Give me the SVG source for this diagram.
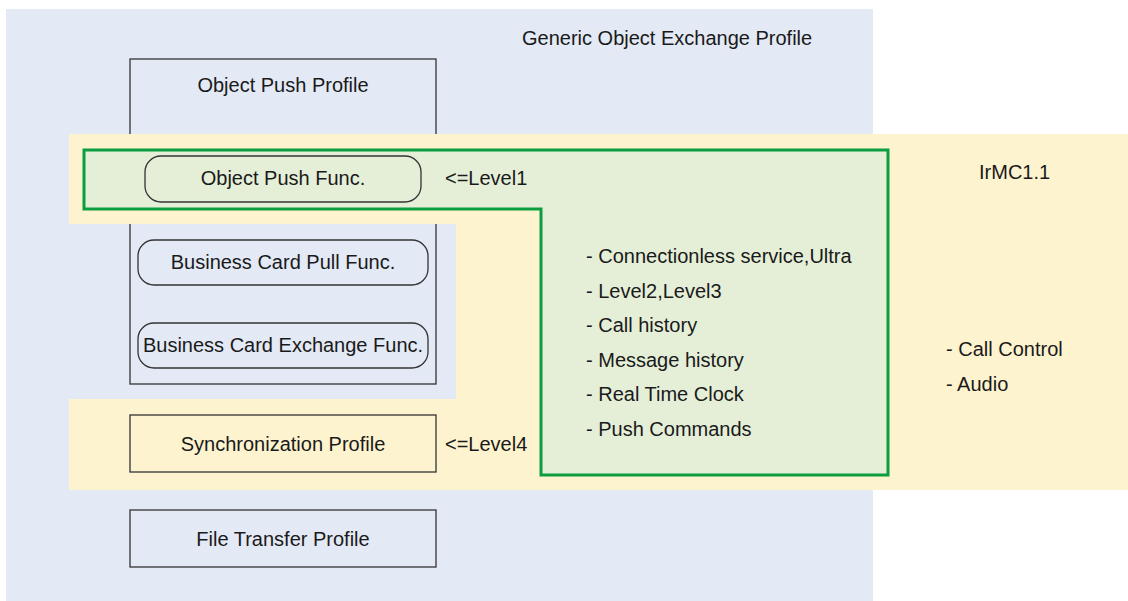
<svg xmlns="http://www.w3.org/2000/svg" width="1128" height="601" viewBox="0 0 1128 601">
  <style>
    text { font-family: "Liberation Sans", Arial, sans-serif; font-size: 20px; fill: #1a1a1a; }
    .mid { text-anchor: middle; }
    .box { stroke: #333333; stroke-width: 1.3; }
    .func { fill: none; stroke: #333333; stroke-width: 1.3; }
  </style>

  <!-- Generic Object Exchange Profile area -->
  <g id="goep">
    <rect x="6" y="9" width="867" height="592" fill="#e3e9f5"/>
    <text x="522" y="45">Generic Object Exchange Profile</text>
  </g>

  <!-- Object Push Profile frame (partly covered by the IrMC band) -->
  <g id="object-push-profile">
    <rect class="box" x="130" y="59" width="306" height="325" fill="none"/>
    <text class="mid" x="283" y="92">Object Push Profile</text>
  </g>

  <!-- IrMC1.1 band with a notch for the business card functions -->
  <g id="irmc">
    <polygon points="69,134 1128,134 1128,490 69,490 69,399 456,399 456,224 69,224" fill="#fdf3cf"/>
    <text x="979" y="179">IrMC1.1</text>
    <text x="946" y="356">- Call Control</text>
    <text x="946" y="391">- Audio</text>
  </g>

  <!-- Functions shared by both specs -->
  <g id="shared">
    <polygon points="84,150 888,150 888,475 541,475 541,209 84,209" fill="#e5efd8" stroke="#0b9e3e" stroke-width="3"/>
    <text x="586" y="263">- Connectionless service,Ultra</text>
    <text x="586" y="297.5">- Level2,Level3</text>
    <text x="586" y="332">- Call history</text>
    <text x="586" y="366.5">- Message history</text>
    <text x="586" y="401">- Real Time Clock</text>
    <text x="586" y="435.5">- Push Commands</text>
  </g>

  <g id="object-push-func">
    <rect class="func" x="145" y="156" width="276" height="46" rx="16"/>
    <text class="mid" x="283" y="185">Object Push Func.</text>
    <text x="445" y="185">&lt;=Level1</text>
  </g>

  <g id="business-card-pull">
    <rect class="func" x="138" y="240" width="290" height="45" rx="16"/>
    <text class="mid" x="283" y="269">Business Card Pull Func.</text>
  </g>

  <g id="business-card-exchange">
    <rect class="func" x="138" y="323" width="290" height="45" rx="16"/>
    <text class="mid" x="283" y="352">Business Card Exchange Func.</text>
  </g>

  <g id="synchronization-profile">
    <rect class="box" x="130" y="415" width="306" height="57" fill="none"/>
    <text class="mid" x="283" y="451">Synchronization Profile</text>
    <text x="445" y="451">&lt;=Level4</text>
  </g>

  <g id="file-transfer-profile">
    <rect class="box" x="130" y="510" width="306" height="57" fill="none"/>
    <text class="mid" x="283" y="546">File Transfer Profile</text>
  </g>

  <g id="connectors"></g>
</svg>
